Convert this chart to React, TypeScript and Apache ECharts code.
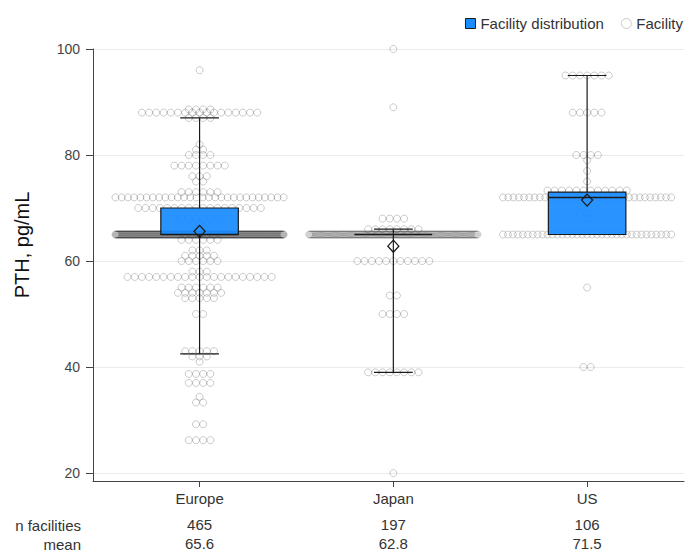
import React, { useEffect, useRef } from "react";
import * as echarts from "echarts";

// ---------- data ----------
const categories = ["Europe", "Japan", "US"];
const nFacilities = [465, 197, 106];
const means = [65.6, 62.8, 71.5];
const yTicks = [20, 40, 60, 80, 100];

// box statistics: [lower whisker, Q1, median, Q3, upper whisker]
const boxEurope = [42.5, 65, 65, 70, 87];
const boxJapan = [39, 65, 65, 65, 66];
const boxUS = [65, 65, 72, 73, 95];

// facility values: [PTH value, number of facilities at that value]
const europeFacilities: [number, number][] = [
  [96, 1], [88.6, 4], [88, 17], [87, 4], [82, 1], [81, 2], [80, 4], [78, 8],
  [76, 3], [75, 2], [73, 6], [72, 28], [70, 18], [68, 8], [67, 3], [65, 266],
  [64, 6], [62, 3], [61, 5], [60, 6], [58, 3], [57, 21], [55, 6], [54, 7],
  [53, 5], [50, 2], [43, 5], [42, 3], [41, 1], [38.7, 4], [37, 4], [34.4, 1],
  [33.3, 2], [29.2, 2], [26.2, 4],
];
const japanFacilities: [number, number][] = [
  [100, 1], [89, 1], [68, 4], [66, 8], [65, 158], [60, 11], [53.5, 2], [50, 4],
  [39, 8], [20, 1],
];
const usFacilities: [number, number][] = [
  [95, 7], [88, 5], [80, 4], [79, 1], [77, 1], [75, 1], [73.3, 12], [72, 33],
  [69, 3], [68, 1], [65, 35], [55, 1], [40, 2],
];

// ---------- layout / style constants ----------
const FONT = "'Liberation Sans', Arial, sans-serif";
const BOX_COLOR = "#198CFF";
const X_MIN = 0.45;
const X_MAX = 3.5;
const Y_MIN = 18.5;
const Y_MAX = 100;
const BOX_HALF = 0.2;
const CAP_HALF = 0.1;
const DOT_STEP = 0.0372;
const MAX_HALF = 0.434;

function swarm(center: number, rows: [number, number][]) {
  const pts: number[][] = [];
  rows.forEach(([v, n]) => {
    const step = n > 1 ? Math.min(DOT_STEP, (2 * MAX_HALF) / (n - 1)) : 0;
    for (let i = 0; i < n; i++) pts.push([center + (i - (n - 1) / 2) * step, v]);
  });
  return pts;
}

export default function App() {
  const ref = useRef<HTMLDivElement>(null);
  useEffect(() => {
    document.body.style.margin = "0";
    const chart = echarts.init(ref.current!, undefined, { renderer: "svg" });
    const facilityPts = [
      ...swarm(1, europeFacilities),
      ...swarm(2, japanFacilities),
      ...swarm(3, usFacilities),
    ];
    const boxes = [boxEurope, boxJapan, boxUS];
    const boxData = boxes.map((b, i) => [i + 1, ...b, means[i]]);
    const catIdx = (v: number) => Math.round(v) - 1;
    const baseX = {
      type: "value",
      min: X_MIN,
      max: X_MAX,
      position: "bottom",
      splitLine: { show: false },
    };
    const option: any = {
      animation: false,
      backgroundColor: "#fff",
      grid: { left: 93, right: 5, top: 49, bottom: 76 },
      legend: {
        right: 1,
        top: 11,
        itemWidth: 10,
        itemHeight: 10,
        itemGap: 17,
        textStyle: { fontSize: 15, color: "#333", fontFamily: FONT },
        data: [
          {
            name: "Facility distribution",
            icon: "rect",
            itemStyle: { color: BOX_COLOR, borderColor: "#1a1a1a", borderWidth: 1 },
          },
          {
            name: "Facility",
            icon: "circle",
            itemStyle: { color: "#fff", borderColor: "#bbb", borderWidth: 1 },
          },
        ],
      },
      xAxis: [
        {
          ...baseX,
          axisLine: { show: true, onZero: false, lineStyle: { color: "#444" } },
          axisTick: { show: true, customValues: [1, 2, 3], length: 6, lineStyle: { color: "#444" } },
          axisLabel: {
            customValues: [1, 2, 3],
            formatter: (v: number) => categories[catIdx(v)],
            margin: 10,
            fontSize: 15,
            color: "#333",
            fontFamily: FONT,
          },
        },
        {
          ...baseX,
          offset: 26,
          axisLine: { show: false },
          axisTick: { show: false },
          axisLabel: {
            customValues: [1, 2, 3],
            formatter: (v: number) => String(nFacilities[catIdx(v)]),
            margin: 10,
            fontSize: 15,
            color: "#333",
            fontFamily: FONT,
          },
        },
        {
          ...baseX,
          offset: 45,
          axisLine: { show: false },
          axisTick: { show: false },
          axisLabel: {
            customValues: [1, 2, 3],
            formatter: (v: number) => means[catIdx(v)].toFixed(1),
            margin: 10,
            fontSize: 15,
            color: "#333",
            fontFamily: FONT,
          },
        },
      ],
      yAxis: {
        type: "value",
        min: Y_MIN,
        max: Y_MAX,
        axisLine: { show: true, lineStyle: { color: "#444" } },
        axisTick: { show: true, customValues: yTicks, length: 7, lineStyle: { color: "#444" } },
        axisLabel: {
          customValues: yTicks,
          margin: 13,
          fontSize: 14,
          color: "#444",
          fontFamily: FONT,
        },
        splitLine: { show: true, lineStyle: { color: "#ebebeb" } },
      },
      graphic: [
        {
          type: "text",
          x: 22,
          y: 245,
          rotation: Math.PI / 2,
          style: {
            text: "PTH, pg/mL",
            font: `20px ${FONT}`,
            fill: "#111",
            align: "center",
            verticalAlign: "middle",
          },
        },
        {
          type: "text",
          x: 81,
          y: 525,
          style: {
            text: "n facilities",
            font: `15px ${FONT}`,
            fill: "#333",
            align: "right",
            verticalAlign: "middle",
          },
        },
        {
          type: "text",
          x: 81,
          y: 544,
          style: {
            text: "mean",
            font: `15px ${FONT}`,
            fill: "#333",
            align: "right",
            verticalAlign: "middle",
          },
        },
      ],
      series: [
        {
          name: "Facility",
          type: "scatter",
          xAxisIndex: 0,
          data: facilityPts,
          symbol: "circle",
          symbolSize: 7,
          silent: true,
          z: 2,
          itemStyle: {
            color: "rgba(255,255,255,0)",
            borderColor: "rgba(0,0,0,0.25)",
            borderWidth: 1,
          },
          emphasis: { disabled: true },
        },
        {
          name: "Facility distribution",
          type: "custom",
          xAxisIndex: 0,
          z: 3,
          silent: true,
          itemStyle: { color: BOX_COLOR },
          encode: { x: 0, y: [1, 2, 3, 4, 5, 6] },
          data: boxData,
          renderItem: (params: any, api: any) => {
            const x = api.value(0);
            const low = api.value(1);
            const q1 = api.value(2);
            const med = api.value(3);
            const q3 = api.value(4);
            const high = api.value(5);
            const mean = api.value(6);
            const pt = (dx: number, v: number) => api.coord([x + dx, v]);
            const stroke = "#1a1a1a";
            const line = (a: number[], b: number[], w = 1.2) => ({
              type: "line",
              shape: { x1: a[0], y1: a[1], x2: b[0], y2: b[1] },
              style: { stroke, lineWidth: w },
            });
            const tl = pt(-BOX_HALF, q3);
            const br = pt(BOX_HALF, q1);
            const m = pt(0, mean);
            return {
              type: "group",
              children: [
                line(pt(0, low), pt(0, q1)),
                line(pt(0, q3), pt(0, high)),
                line(pt(-CAP_HALF, low), pt(CAP_HALF, low)),
                line(pt(-CAP_HALF, high), pt(CAP_HALF, high)),
                {
                  type: "rect",
                  shape: { x: tl[0], y: tl[1], width: br[0] - tl[0], height: br[1] - tl[1] },
                  style: { fill: "rgba(25,140,255,0.93)", stroke, lineWidth: 1.2 },
                },
                line(pt(-BOX_HALF, med), pt(BOX_HALF, med), 1.5),
                {
                  type: "polygon",
                  shape: {
                    points: [
                      [m[0], m[1] - 6],
                      [m[0] + 5.5, m[1]],
                      [m[0], m[1] + 6],
                      [m[0] - 5.5, m[1]],
                    ],
                  },
                  style: { fill: "none", stroke, lineWidth: 1.3 },
                },
              ],
            };
          },
        },
      ],
    };
    chart.setOption(option);
    return () => chart.dispose();
  }, []);
  return <div ref={ref} style={{ width: 689, height: 557 }} />;
}
